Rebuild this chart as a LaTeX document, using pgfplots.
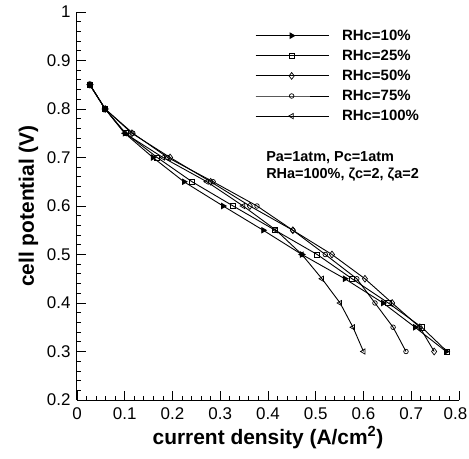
\documentclass[border=0pt]{standalone}
\usepackage{pgfplots}
\pgfplotsset{compat=1.18}
\usepackage{fontspec}
\setmainfont{Liberation Sans}
\begin{document}
\begin{tikzpicture}
\path[use as bounding box] (-77bp,-59bp) rectangle (392bp,400bp);
\begin{axis}[
  at={(0,0)}, anchor=south west,
  scale only axis, width=382bp, height=388bp,
  xmin=0, xmax=0.8, ymin=0.2, ymax=1,
  axis lines=left, axis line style={-, line width=1bp},
  xtick={0,0.1,...,0.8}, ytick={0.2,0.3,...,1.0},
  xticklabels={0,0.1,0.2,0.3,0.4,0.5,0.6,0.7,\hspace*{-7bp}0.8},
  yticklabels={0.2,0.3,0.4,0.5,0.6,0.7,0.8,0.9,1},
  minor x tick num=4, minor y tick num=4,
  tick align=inside,
  major tick length=9bp, minor tick length=4.5bp,
  tick style={black, line width=0.8bp},
  ticklabel style={font=\fontsize{17}{20}\selectfont},
  xticklabel style={yshift=-4bp},
  yticklabel style={xshift=-3bp},
  label style={font=\bfseries\fontsize{21}{25}\selectfont},
  xlabel={current density (A/cm\textsuperscript{2})},
  ylabel={cell potential (V)},
  xlabel style={yshift=0bp},
  ylabel style={yshift=2bp},
  every axis plot/.append style={black, line width=0.9bp},
  legend cell align=left,
  legend style={draw=none, fill=none, at={(0.466,0.96)}, anchor=north west,
    font=\bfseries\fontsize{15}{18}\selectfont, row sep=4.2bp, inner sep=0pt,
    nodes={inner sep=2pt}},
  legend image code/.code={\draw[mark repeat=2,mark phase=2,#1] plot coordinates {(0bp,0bp) (36bp,0bp) (73bp,0bp)};\path (84bp,0bp);},
]
\addplot[mark=triangle*, mark size=3bp, mark options={rotate=-90, fill=black}] coordinates {
(0.027,0.85) (0.059,0.8) (0.100,0.75) (0.159,0.7) (0.224,0.65) (0.306,0.6) (0.390,0.55) (0.471,0.5) (0.561,0.45) (0.641,0.4) (0.708,0.35) (0.773,0.3)};
\addlegendentry{RHc=10\%}
\addplot[mark=square, mark size=2.6bp, mark options={solid, line width=0.7bp}] coordinates {
(0.027,0.85) (0.059,0.8) (0.102,0.75) (0.168,0.7) (0.241,0.65) (0.327,0.6) (0.415,0.55) (0.503,0.5) (0.576,0.45) (0.652,0.4) (0.722,0.35) (0.775,0.3)};
\addlegendentry{RHc=25\%}
\addplot[mark=diamond, mark size=3.4bp, mark options={solid, line width=0.7bp}] coordinates {
(0.027,0.85) (0.059,0.8) (0.115,0.75) (0.195,0.7) (0.280,0.65) (0.362,0.6) (0.452,0.55) (0.534,0.5) (0.603,0.45) (0.660,0.4) (0.718,0.35) (0.748,0.3)};
\addlegendentry{RHc=50\%}
\addplot[mark=o, mark size=2.3bp, mark options={solid, line width=0.7bp}] coordinates {
(0.027,0.85) (0.059,0.8) (0.117,0.75) (0.190,0.7) (0.285,0.65) (0.377,0.6) (0.452,0.55) (0.520,0.5) (0.586,0.45) (0.624,0.4) (0.662,0.35) (0.689,0.3)};
\addlegendentry{RHc=75\%}
\addplot[mark=triangle, mark size=3bp, mark options={solid, rotate=90, line width=0.7bp}] coordinates {
(0.027,0.85) (0.059,0.8) (0.100,0.75) (0.180,0.7) (0.272,0.65) (0.348,0.6) (0.417,0.55) (0.471,0.5) (0.513,0.45) (0.551,0.4) (0.578,0.35) (0.600,0.3)};
\addlegendentry{RHc=100\%}
\node[anchor=north west, inner sep=0pt, align=left, font=\bfseries\fontsize{14.5}{17}\selectfont]
  at (axis description cs:0.495,0.64) {Pa=1atm, Pc=1atm\\RHa=100\%, ζc=2, ζa=2};
\end{axis}
\end{tikzpicture}
\end{document}
